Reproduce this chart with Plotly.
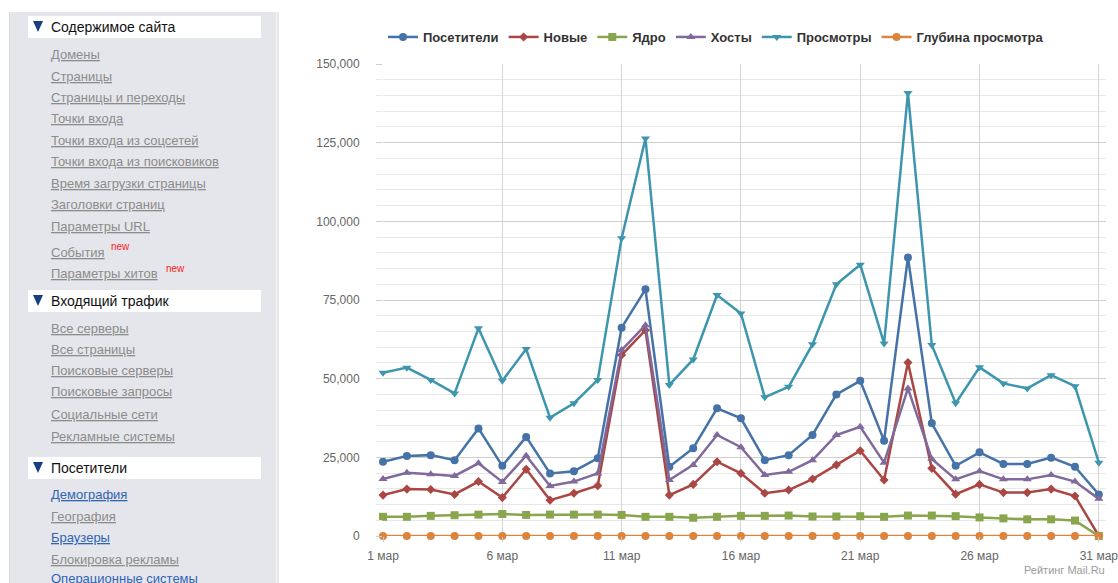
import plotly.graph_objects as go

# ---------------- data ----------------
days = list(range(1, 32))
tick_days = [1, 6, 11, 16, 21, 26, 31]
tick_labels = ["1 мар", "6 мар", "11 мар", "16 мар", "21 мар", "26 мар", "31 мар"]

series_names = ["Посетители", "Новые", "Ядро", "Хосты", "Просмотры", "Глубина просмотра"]

visitors = [23600, 25400, 25700, 24100, 34200, 22300, 31500, 19900, 20600, 24700,
            66200, 78400, 22000, 27900, 40600, 37400, 24100, 25700, 32100, 45000,
            49300, 30300, 88500, 35800, 22300, 26600, 22900, 22900, 24900, 22000, 13200]
new = [13000, 14900, 14800, 13200, 17300, 12200, 21200, 11400, 13600, 16000,
       57500, 65400, 13000, 16400, 23600, 19900, 13600, 14600, 18100, 22600,
       27100, 17800, 55100, 21500, 13300, 16400, 13800, 13800, 14900, 12700, 0]
core = [6100, 6100, 6400, 6600, 6800, 7000, 6700, 6800, 6800, 6800,
        6700, 6100, 6100, 5800, 6100, 6400, 6400, 6500, 6200, 6200,
        6300, 6100, 6500, 6500, 6300, 5900, 5600, 5300, 5300, 4900, 0]
hosts = [18100, 20100, 19600, 19100, 23100, 17200, 25500, 15900, 17300, 19900,
         59100, 67000, 17800, 22600, 32100, 28200, 19400, 20400, 24100, 32100,
         34700, 23300, 46900, 24500, 18000, 20600, 18000, 18000, 19400, 17300, 11800]
views = [51900, 53500, 49600, 45300, 66000, 49300, 59400, 37600, 42200, 49600,
         94600, 126300, 48000, 56100, 76600, 70700, 44100, 47400, 60900, 80000,
         86200, 61200, 140800, 60700, 42200, 53600, 48500, 46900, 51100, 47600, 23300]
depth = [2.2, 2.1, 1.9, 1.9, 1.9, 2.2, 1.9, 1.9, 2.0, 2.0,
         1.4, 1.6, 2.2, 2.0, 1.9, 1.9, 1.8, 1.8, 1.9, 1.8,
         1.7, 2.0, 1.6, 1.7, 1.9, 2.0, 2.1, 2.0, 2.1, 2.2, 1.8]

series_values = [visitors, new, core, hosts, views, depth]
series_colors = ["#4572A7", "#AA4643", "#89A54E", "#80699B", "#3D96AE", "#DB843D"]
series_symbols = ["circle", "diamond", "square", "triangle-up", "triangle-down", "circle"]
series_msize = [8, 7, 8, 8, 8, 8]

y_ticks = [0, 25000, 50000, 75000, 100000, 125000, 150000]

# sidebar content
sections = [
    ("Содержимое сайта", 16, [
        ("Домены", 54, "g"), ("Страницы", 76, "g"), ("Страницы и переходы", 97, "g"),
        ("Точки входа", 118, "g"), ("Точки входа из соцсетей", 140, "g"),
        ("Точки входа из поисковиков", 161, "g"), ("Время загрузки страницы", 183, "g"),
        ("Заголовки страниц", 204, "g"), ("Параметры URL", 226, "g"),
        ("События", 252, "g"), ("Параметры хитов", 273, "g"),
    ]),
    ("Входящий трафик", 290, [
        ("Все серверы", 328, "g"), ("Все страницы", 349, "g"), ("Поисковые серверы", 371, "g"),
        ("Поисковые запросы", 392, "g"), ("Социальные сети", 414, "g"),
        ("Рекламные системы", 436, "g"),
    ]),
    ("Посетители", 457, [
        ("Демография", 494, "b"), ("География", 516, "g"), ("Браузеры", 537, "b"),
        ("Блокировка рекламы", 559, "g"), ("Операционные системы", 578, "b"),
    ]),
]
new_badges = [(110, 246), (165, 268)]

# ---------------- figure ----------------
W, H = 1118, 583
L, R, T, B = 383, 1106, 64, 536


def fx(x):
    return (x - L) / (R - L)


def fy(y):
    return (B - y) / (B - T)


fig = go.Figure()
for name, vals, col, sym, ms in zip(series_names, series_values, series_colors,
                                     series_symbols, series_msize):
    fig.add_trace(go.Scatter(
        x=days, y=vals, name=name, mode="lines+markers",
        line=dict(color=col, width=2.5),
        marker=dict(symbol=sym, size=ms, color=col, line=dict(width=0)),
        cliponaxis=False,
    ))

font_family = "Liberation Sans, Arial, sans-serif"

shapes = []
annotations = []

# sidebar panel
shapes.append(dict(type="rect", xref="paper", yref="paper",
                   x0=fx(9), x1=fx(279), y0=fy(590), y1=fy(12),
                   fillcolor="#e5e6eb", line=dict(width=0), layer="below"))
shapes.append(dict(type="line", xref="paper", yref="paper",
                   x0=fx(276.5), x1=fx(276.5), y0=fy(590), y1=fy(12),
                   line=dict(color="#f3f3f6", width=1.5), layer="below"))
shapes.append(dict(type="line", xref="paper", yref="paper",
                   x0=fx(9.5), x1=fx(9.5), y0=fy(590), y1=fy(12),
                   line=dict(color="#d9dae0", width=1), layer="below"))

for title, top, links in sections:
    shapes.append(dict(type="rect", xref="paper", yref="paper",
                       x0=fx(28), x1=fx(261), y0=fy(top + 22), y1=fy(top),
                       fillcolor="#ffffff", line=dict(width=0), layer="below"))
    tri = "M {} {} L {} {} L {} {} Z".format(
        fx(33), fy(top + 5), fx(43), fy(top + 5), fx(38), fy(top + 16))
    shapes.append(dict(type="path", xref="paper", yref="paper", path=tri,
                       fillcolor="#163e80", line=dict(width=0)))
    annotations.append(dict(xref="paper", yref="paper", x=fx(49), y=fy(top + 11),
                            xanchor="left", yanchor="middle", showarrow=False,
                            text=title, font=dict(family=font_family, size=14, color="#111111")))
    for text, yc, c in links:
        color = "#2f64b5" if c == "b" else "#8c8c8c"
        annotations.append(dict(xref="paper", yref="paper", x=fx(49), y=fy(yc),
                                xanchor="left", yanchor="middle", showarrow=False,
                                text="<u>" + text + "</u>",
                                font=dict(family=font_family, size=13, color=color)))

for bx, by in new_badges:
    annotations.append(dict(xref="paper", yref="paper", x=fx(bx - 1), y=fy(by),
                            xanchor="left", yanchor="middle", showarrow=False,
                            text="new", font=dict(family=font_family, size=10, color="#ff1a1a")))

annotations.append(dict(xref="paper", yref="paper", x=fx(1107), y=fy(570),
                        xanchor="right", yanchor="middle", showarrow=False,
                        text="Рейтинг Mail.Ru",
                        font=dict(family=font_family, size=11, color="#9a9a9a")))

fig.update_layout(
    width=W, height=H,
    margin=dict(l=L, r=W - R, t=T, b=H - B, pad=0, autoexpand=False),
    paper_bgcolor="#ffffff", plot_bgcolor="#ffffff",
    font=dict(family=font_family, size=12, color="#666666"),
    showlegend=True,
    legend=dict(orientation="h", xanchor="center", x=fx(716), yanchor="middle", y=fy(37),
                font=dict(family=font_family, size=13, color="#333333", weight=700),
                bgcolor="rgba(0,0,0,0)", itemwidth=30),
    xaxis=dict(range=[1, 31.3], tickmode="array", tickvals=tick_days, ticktext=tick_labels,
               showgrid=True, gridcolor="#d6d6d6", gridwidth=1, zeroline=False, showline=False,
               ticks="outside", ticklen=5, tickcolor="#C0D0E0", ticklabeloverflow="allow",
               automargin=False,
               tickfont=dict(family=font_family, size=12, color="#666666"), ticklabelstandoff=4),
    yaxis=dict(range=[0, 150000], tickmode="array", tickvals=y_ticks, tickformat=",",
               showgrid=True, gridcolor="#cfcfcf", gridwidth=1, zeroline=False, showline=False,
               ticks="outside", ticklen=6, tickcolor="#cfcfcf", automargin=False,
               tickfont=dict(family=font_family, size=12, color="#666666"), ticklabelstandoff=14,
               minor=dict(dtick=5000, showgrid=True, gridcolor="#e8e8e8", ticks="outside",
                          ticklen=6, tickcolor="#e8e8e8")),
    shapes=shapes, annotations=annotations,
)

fig.write_html("out.html")
